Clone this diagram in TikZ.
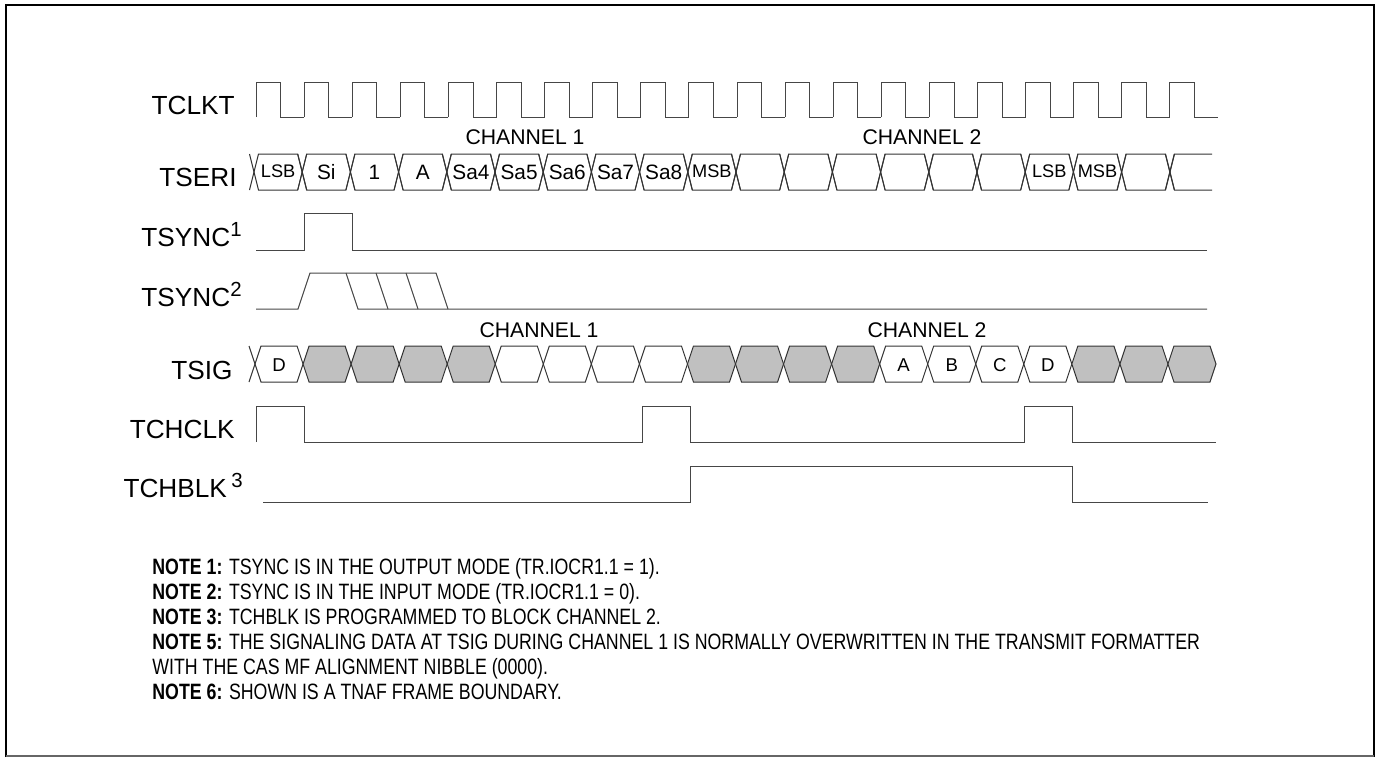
\documentclass[tikz,border=0pt]{standalone}
\usepackage{fontspec}
\setmainfont{Liberation Sans}
\newfontfamily\notefont[FakeStretch=0.8]{Liberation Sans}
\usetikzlibrary{calc}
\definecolor{WaveGray}{RGB}{70,70,70}
\definecolor{CellGray}{RGB}{192,192,192}
\newcommand{\supnum}[1]{\raisebox{5pt}{\fontsize{10.2}{12}\selectfont #1}}
\newcommand{\smallbit}[1]{\raisebox{0.5pt}{\fontsize{9.1}{11}\selectfont #1}}
\tikzset{
  wave/.style={draw=WaveGray,line width=0.5pt},
  cell/.style={draw=black!80,line width=0.5pt},
  grayed/.style={cell,fill=CellGray},
  sig/.style={font=\fontsize{13.1}{15}\selectfont,inner sep=0pt,anchor=base east},
  chan/.style={font=\fontsize{10.6}{12}\selectfont,inner sep=0pt},
  bit/.style={font=\fontsize{10.4}{12}\selectfont,inner sep=0pt},
  tag/.style={font=\fontsize{9.3}{11}\selectfont,inner sep=0pt},
  note/.style={font=\notefont\fontsize{11.1}{13}\selectfont,inner sep=0pt,anchor=base west},
}
\begin{document}
\begin{tikzpicture}[x=0.5pt,y=-0.5pt]
\useasboundingbox (0,0) rectangle (1377,757);
% frame
\draw[black,line width=1pt] (6,757)--(6,4.8)--(1374.3,4.8)--(1374.3,757);
\draw[black!60,line width=0.8pt] (6,756)--(1374.3,756);
% signal names
\node[sig] (tclkt) at (235,114) {TCLKT};
\node[sig] (tseri) at (237,186) {TSERI};
\node[sig] (tsynca) at (242,246) {TSYNC\supnum{1}};
\node[sig] (tsyncb) at (242,306) {TSYNC\supnum{2}};
\node[sig] (tsig) at (233,379) {TSIG};
\node[sig] (tchclk) at (235,438) {TCHCLK};
\node[sig] (tchblk) at (243,497) {TCHBLK\,\supnum{3}};
\node[chan] (chana) at (525,137) {CHANNEL 1};
\node[chan] (chanb) at (922,137) {CHANNEL 2};
\node[chan] (chanc) at (539,330) {CHANNEL 1};
\node[chan] (chand) at (927,330) {CHANNEL 2};
% clock
\foreach \k in {0,...,19}{
  \pgfmathsetmacro{\xa}{256+48.1*\k}
  \pgfmathsetmacro{\xb}{\xa+24.6}
  \pgfmathsetmacro{\xc}{\xa+48.1}
  \draw[wave] (\xa,117)--(\xa,82)--(\xb,82)--(\xb,117)--(\xc,117);
}
% serial data
\foreach \k/\txt in {0/\smallbit{LSB},1/Si,2/1,3/A,4/Sa4,5/Sa5,6/Sa6,7/Sa7,8/Sa8,9/\smallbit{MSB},10/,11/,12/,13/,14/,15/,16/\smallbit{LSB},17/\smallbit{MSB},18/}{
  \pgfmathsetmacro{\xa}{254+48.2*\k}
  \pgfmathsetmacro{\xb}{\xa+48.2}
  \draw[cell] (\xa-4.5,190)--(\xa+4.5,154)--(\xb-4.5,154)--(\xb+4.5,190);
  \draw[cell] (\xa-4.5,154)--(\xa+4.5,190)--(\xb-4.5,190)--(\xb+4.5,154);
  \node[bit] (ser\k) at ($(\xa,172)!0.5!(\xb,172)$) {\txt};
}
\draw[cell] (1165.5,190)--(1174.5,154)--(1212,154);
\draw[cell] (1165.5,154)--(1174.5,190)--(1212,190);
% sync waves
\draw[wave] (256,250)--(304,250)--(304,213)--(352,213)--(352,250)--(1207,250);
\draw[wave] (256,309)--(298,309)--(310,273)--(436,273)--(448,309);
\draw[wave] (346,273)--(358,309)--(1207,309);
\foreach \xa in {376,406}{
  \draw[wave] (\xa,273)--(\xa+12,309);
}
% signaling cells
\foreach \k/\fillstyle/\txt in {0/cell/D,1/grayed/,2/grayed/,3/grayed/,4/grayed/,5/cell/,6/cell/,7/cell/,8/cell/,9/grayed/,10/grayed/,11/grayed/,12/grayed/,13/cell/A,14/cell/B,15/cell/C,16/cell/D,17/grayed/,18/grayed/,19/grayed/}{
  \pgfmathsetmacro{\xa}{255+48.05*\k}
  \pgfmathsetmacro{\xb}{\xa+48.05}
  \draw[\fillstyle] (\xa,364)--(\xa+6,346)--(\xb-6,346)--(\xb,364)--(\xb-6,382)--(\xa+6,382)--cycle;
  \node[tag] (sg\k) at ($(\xa,365)!0.5!(\xb,365)$) {\txt};
}
\draw[cell] (249,346)--(255,364)--(249,382);
% channel clock and block
\draw[wave] (256,442)--(256,406)--(304,406)--(304,442)--(642,442)--(642,406)--(690,406)--(690,442)--(1024,442)--(1024,406)--(1072,406)--(1072,442)--(1216,442);
\draw[wave] (263,502)--(690,502)--(690,466)--(1072,466)--(1072,502)--(1208,502);
% notes
\node[note] (n1) at (152,574) {\textbf{NOTE 1:} TSYNC IS IN THE OUTPUT MODE (TR.IOCR1.1 = 1).};
\node[note] (n2) at (152,599) {\textbf{NOTE 2:} TSYNC IS IN THE INPUT MODE (TR.IOCR1.1 = 0).};
\node[note] (n3) at (152,624) {\textbf{NOTE 3:} TCHBLK IS PROGRAMMED TO BLOCK CHANNEL 2.};
\node[note] (n4) at (152,649) {\textbf{NOTE 5:} THE SIGNALING DATA AT TSIG DURING CHANNEL 1 IS NORMALLY OVERWRITTEN IN THE TRANSMIT FORMATTER};
\node[note] (n5) at (152,674) {WITH THE CAS MF ALIGNMENT NIBBLE (0000).};
\node[note] (n6) at (152,699) {\textbf{NOTE 6:} SHOWN IS A TNAF FRAME BOUNDARY.};
\end{tikzpicture}
\end{document}
